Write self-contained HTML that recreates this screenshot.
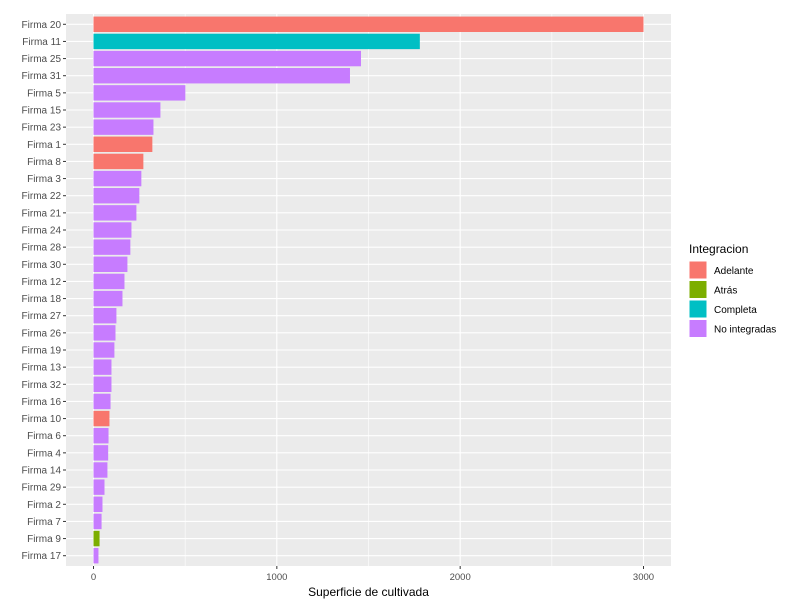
<!DOCTYPE html>
<html><head><meta charset="utf-8"><style>
body{margin:0;background:#fff;font-family:"Liberation Sans",Arial,sans-serif}
svg text{font-family:"Liberation Sans",Arial,sans-serif}
</style></head><body>
<svg id="chart" width="785" height="601" xmlns="http://www.w3.org/2000/svg"></svg>
<script>
const categories=["Firma 20","Firma 11","Firma 25","Firma 31","Firma 5","Firma 15","Firma 23","Firma 1","Firma 8","Firma 3","Firma 22","Firma 21","Firma 24","Firma 28","Firma 30","Firma 12","Firma 18","Firma 27","Firma 26","Firma 19","Firma 13","Firma 32","Firma 16","Firma 10","Firma 6","Firma 4","Firma 14","Firma 29","Firma 2","Firma 7","Firma 9","Firma 17"];
const values=[3000,1780,1459,1399,501,365,327,321,272,261,250,234,207,201,185,169,158,125,120,114,98,98,93,87,82,80,76,60,49,44,33,27];
const groups=["Adelante","Completa","No integradas","No integradas","No integradas","No integradas","No integradas","Adelante","Adelante","No integradas","No integradas","No integradas","No integradas","No integradas","No integradas","No integradas","No integradas","No integradas","No integradas","No integradas","No integradas","No integradas","No integradas","Adelante","No integradas","No integradas","No integradas","No integradas","No integradas","No integradas","Atrás","No integradas"];
const legendLabels=["Adelante","Atrás","Completa","No integradas"];
const legendColors=["#F8766D","#7CAE00","#00BFC4","#C77CFF"];
const xTicks=[0,1000,2000,3000];
const NS="http://www.w3.org/2000/svg";
const svg=document.getElementById('chart');
const L=66,R=671,T=14,B=566;
const xmin=-150,xmax=3150;
const x=v=>L+(v-xmin)/(xmax-xmin)*(R-L);
const step=(B-T)/(categories.length+0.2);
const y=i=>T+step*(0.6+i);
function el(t,a,p){const e=document.createElementNS(NS,t);for(const k in a)e.setAttribute(k,a[k]);(p||svg).appendChild(e);return e;}
const panel=el('rect',{x:L,y:T,width:R-L,height:B-T,fill:'#EBEBEB'});


for(let i=0;i<xTicks.length-1;i++){const m=(xTicks[i]+xTicks[i+1])/2;el('line',{x1:x(m),x2:x(m),y1:T,y2:B,stroke:'#fff','stroke-width':0.6});}
xTicks.forEach(t=>{el('line',{x1:x(t),x2:x(t),y1:T,y2:B,stroke:'#fff','stroke-width':1.1});
 el('line',{x1:x(t),x2:x(t),y1:B,y2:B+3,stroke:'#333'});
 const tx=el('text',{x:x(t),y:B+14,'text-anchor':'middle','font-size':9.5,fill:'#4D4D4D'});tx.textContent=t;
 
 });
categories.forEach((c,i)=>{el('line',{x1:L,x2:R,y1:y(i),y2:y(i),stroke:'#fff','stroke-width':1.1});});
categories.forEach((c,i)=>{
 const col=legendColors[legendLabels.indexOf(groups[i])];
 const r=el('rect',{x:x(0),y:y(i)-step*0.45,width:x(values[i])-x(0),height:step*0.9,fill:col});
 
 
 el('line',{x1:L-3,x2:L,y1:y(i),y2:y(i),stroke:'#333'});
 const t=el('text',{x:L-5,y:y(i)+3.5,'text-anchor':'end','font-size':10,fill:'#4D4D4D'});t.textContent=c;
 
 
});
const xt=el('text',{x:(L+R)/2,y:596,'text-anchor':'middle','font-size':12,fill:'#000'});xt.textContent='Superficie de cultivada';


const lt=el('text',{x:689,y:253,'font-size':12,fill:'#000'});lt.textContent='Integracion';


legendLabels.forEach((g,i)=>{
 const yy=261+i*19.5;
 const k=el('rect',{x:689,y:yy,width:18,height:18,fill:legendColors[i],stroke:'#fff'});
 
 
 const t=el('text',{x:714,y:yy+13,'font-size':10,fill:'#000'});t.textContent=g;
 
 
});
</script>
</body></html>
